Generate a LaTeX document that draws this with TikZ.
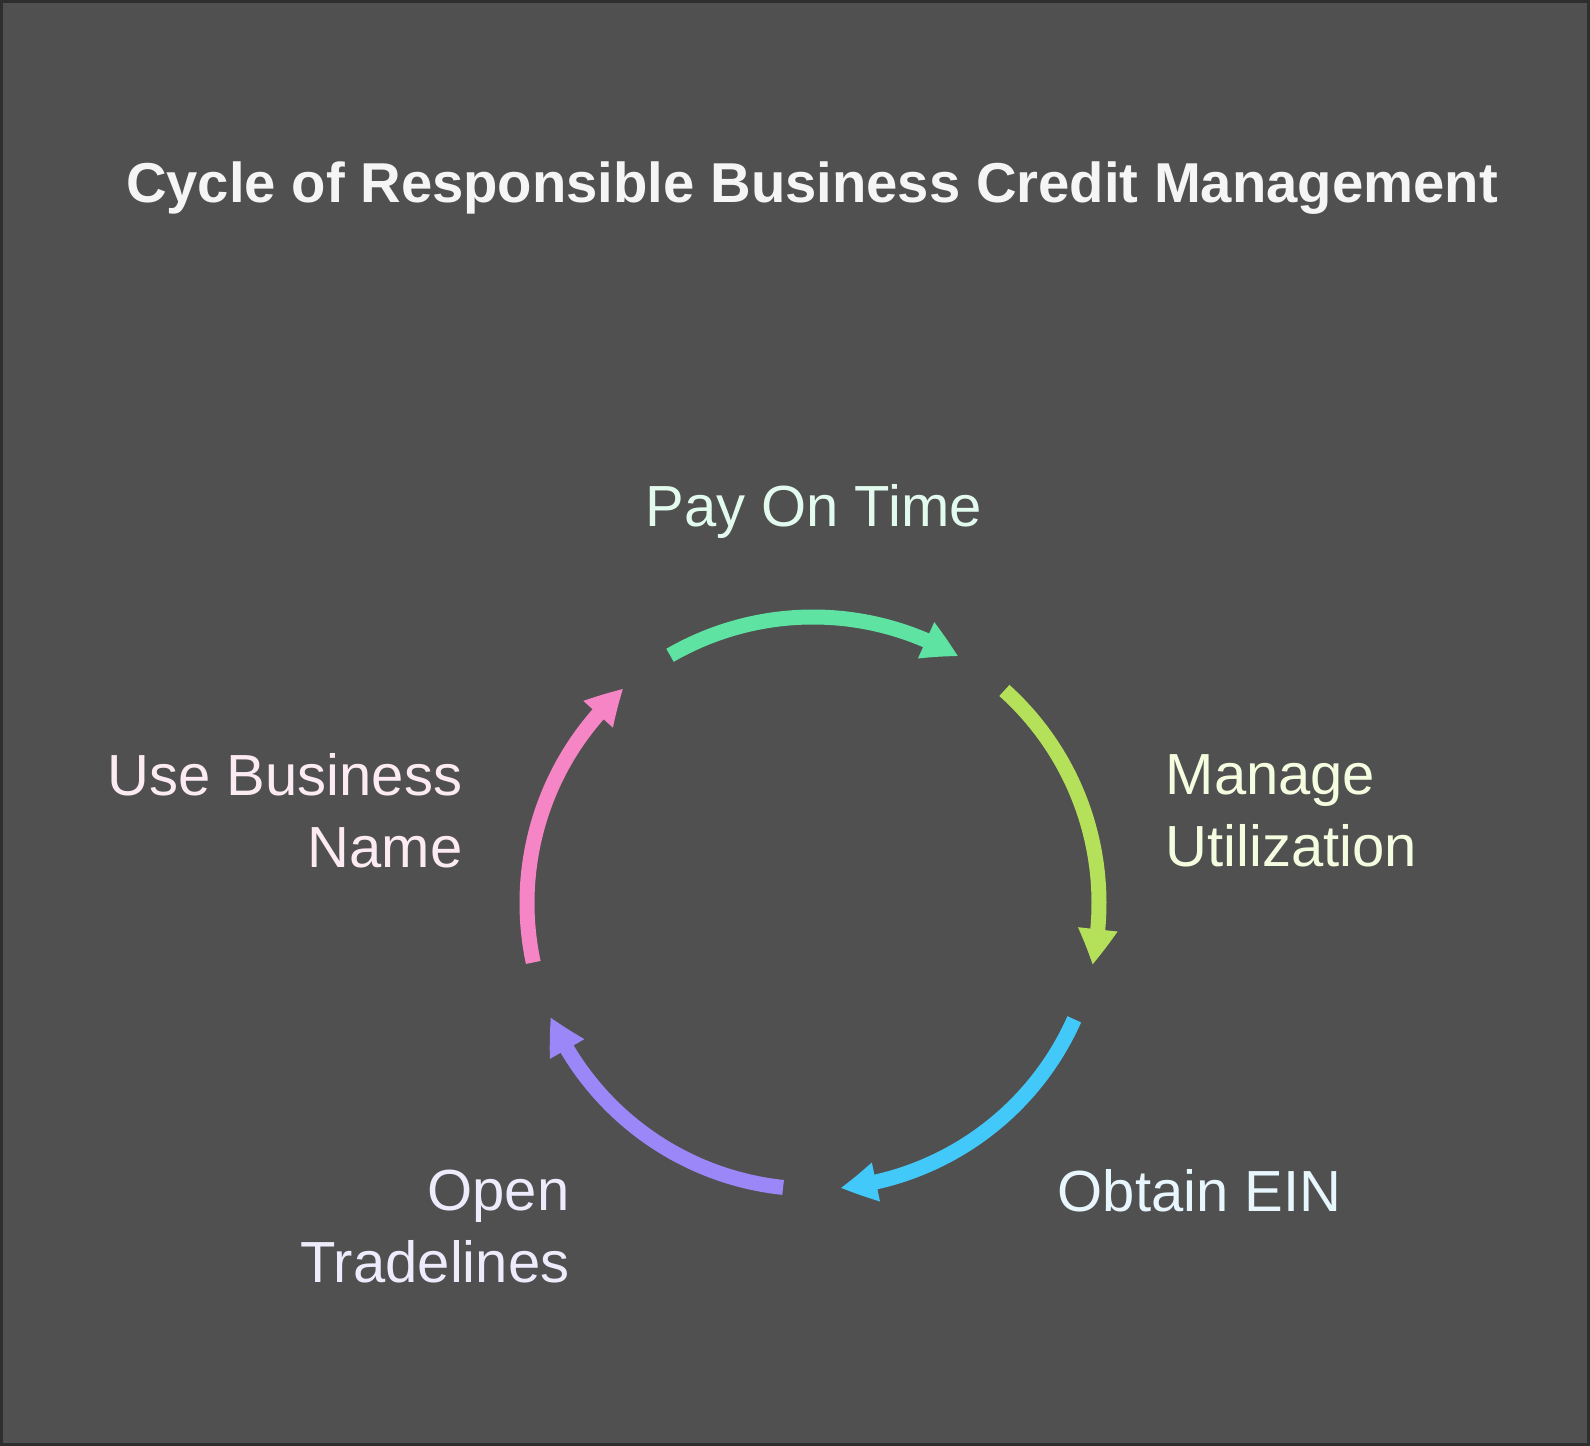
\documentclass[tikz,border=0pt]{standalone}
\usepackage{fontspec}
\setmainfont{Liberation Sans}
\usetikzlibrary{arrows.meta,bending}

\definecolor{fondo}{HTML}{505050}
\definecolor{borde}{HTML}{2E2E2E}
\definecolor{titulo}{HTML}{F5F5F5}
\definecolor{verde}{HTML}{5EE3A3}
\definecolor{lima}{HTML}{B5E05A}
\definecolor{azul}{HTML}{42C8F9}
\definecolor{morado}{HTML}{9C87F8}
\definecolor{rosa}{HTML}{F685C5}
\definecolor{txtverde}{HTML}{E2FBEE}
\definecolor{txtlima}{HTML}{F4FDE0}
\definecolor{txtazul}{HTML}{E8F6FD}
\definecolor{txtmorado}{HTML}{EEEBFC}
\definecolor{txtrosa}{HTML}{FDEBF4}

\tikzset{
	flecha/.style={line width=1.5mm, line cap=butt, -{Triangle[length=3.6mm,width=3.7mm,bend]}},
	etiqueta/.style={inner sep=0pt, font=\fontsize{16.5}{20.5}\selectfont},
}

\begin{document}
\begin{tikzpicture}
		% Fondo y marco
		\fill[borde] (0,0) rectangle (15.90,14.46);
		\fill[fondo] (0.03,0.03) rectangle (15.87,14.43);
		\useasboundingbox (0,0) rectangle (15.90,14.46);
		
		% Titulo
		\node[inner sep=0pt, anchor=base, text=titulo, font=\fontsize{16}{19}\selectfont\bfseries] (titulo) at (8.12, 12.43) {Cycle of Responsible Business Credit Management};
		
		% Centro del ciclo (radio 2.86)
		\coordinate (centro) at (8.13, 5.43);
		
		% Flechas del ciclo
		\draw[flecha, verde] ([shift={(120:2.86)}]centro) arc[start angle=120, end angle=59.5, radius=2.86];
		\draw[flecha, lima] ([shift={(48:2.86)}]centro) arc[start angle=48, end angle=-12.5, radius=2.86];
		\draw[flecha, azul] ([shift={(-24:2.86)}]centro) arc[start angle=-24, end angle=-84.5, radius=2.86];
		\draw[flecha, morado] ([shift={(-96:2.86)}]centro) arc[start angle=-96, end angle=-156.5, radius=2.86];
		\draw[flecha, rosa] ([shift={(192:2.86)}]centro) arc[start angle=192, end angle=131.5, radius=2.86];
		
		% Etiquetas de los pasos (base = ultima linea)
		\node[etiqueta, anchor=base, text=txtverde] (pagar) at (8.135, 9.19) {Pay On Time};
		\node[etiqueta, anchor=base west, align=left, text=txtlima] (utilizacion) at (11.65, 5.79) {Manage\\Utilization};
		\node[etiqueta, anchor=base west, text=txtazul] (ein) at (10.57, 2.34) {Obtain EIN};
		\node[etiqueta, anchor=base east, align=right, text=txtmorado] (lineas) at (5.70, 1.63) {Open\\Tradelines};
		\node[etiqueta, anchor=base east, align=right, text=txtrosa] (nombre) at (4.63, 5.78) {Use Business\\Name};
	\end{tikzpicture}
\end{document}
